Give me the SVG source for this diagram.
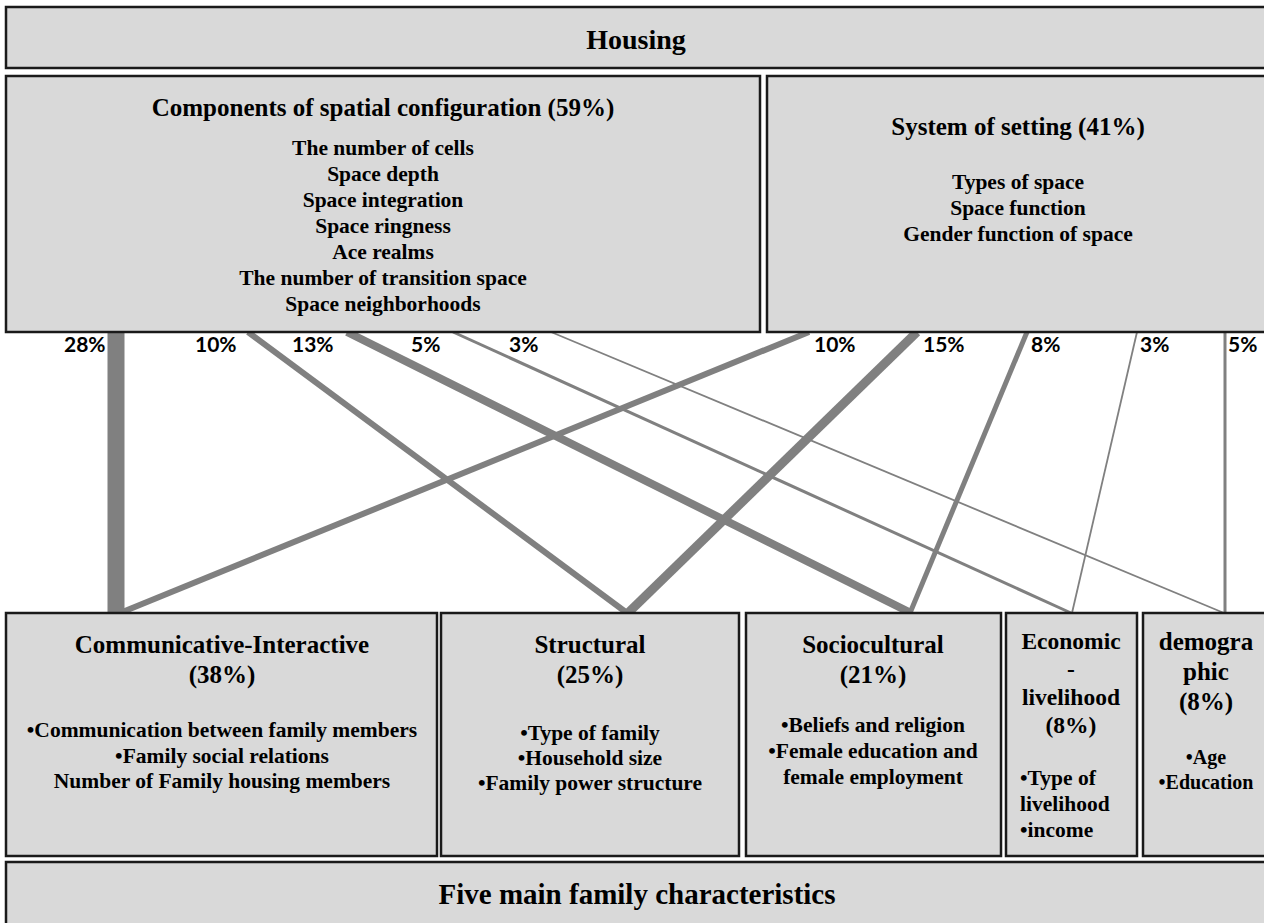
<svg xmlns="http://www.w3.org/2000/svg" width="1264" height="923" viewBox="0 0 1264 923">
<style>
.box{fill:#d9d9d9;stroke:#1a1a1a;stroke-width:2.5}
.t{font-family:"Liberation Serif","Times New Roman",serif;font-weight:bold;fill:#000;text-anchor:middle}
.h{font-size:28px}
.ti{font-size:25px}
.it{font-size:21.5px}
.l{text-anchor:start}
.c{stroke:#808080;fill:none;stroke-linecap:butt}
.p{font-family:Lato,"Liberation Sans",sans-serif;font-weight:bold;font-size:21px;fill:#000}
</style>
<rect width="1264" height="923" fill="#fff"/>
<g id="connectors">
<line class="c" x1="116" y1="332" x2="116" y2="613" stroke-width="17"/>
<line class="c" x1="248" y1="332" x2="627" y2="613" stroke-width="6"/>
<line class="c" x1="347" y1="332" x2="911" y2="613" stroke-width="8"/>
<line class="c" x1="453" y1="332" x2="1071" y2="613" stroke-width="3"/>
<line class="c" x1="551" y1="332" x2="1224" y2="613" stroke-width="1.8"/>
<line class="c" x1="809" y1="332" x2="120" y2="613" stroke-width="6"/>
<line class="c" x1="917" y1="332" x2="628" y2="613" stroke-width="9"/>
<line class="c" x1="1027" y1="332" x2="910" y2="613" stroke-width="5"/>
<line class="c" x1="1137" y1="332" x2="1072" y2="613" stroke-width="1.8"/>
<line class="c" x1="1225" y1="332" x2="1225" y2="613" stroke-width="3"/>
<text class="p" x="64" y="352">28%</text>
<text class="p" x="195" y="352">10%</text>
<text class="p" x="292" y="352">13%</text>
<text class="p" x="411" y="352">5%</text>
<text class="p" x="509" y="352">3%</text>
<text class="p" x="814" y="352">10%</text>
<text class="p" x="923" y="352">15%</text>
<text class="p" x="1031" y="352">8%</text>
<text class="p" x="1140" y="352">3%</text>
<text class="p" x="1228" y="352">5%</text>
</g>
<g id="housing">
<rect class="box" x="6" y="7" width="1266" height="61"/>
<text class="t h" x="636" y="49">Housing</text>
</g>
<g id="components">
<rect class="box" x="6" y="76" width="754" height="256"/>
<text class="t ti" x="383" y="116">Components of spatial configuration (59%)</text>
<text class="t it" x="383" y="155">The number of cells</text>
<text class="t it" x="383" y="181">Space depth</text>
<text class="t it" x="383" y="207">Space integration</text>
<text class="t it" x="383" y="233">Space ringness</text>
<text class="t it" x="383" y="259">Ace realms</text>
<text class="t it" x="383" y="285">The number of transition space</text>
<text class="t it" x="383" y="311">Space neighborhoods</text>
</g>
<g id="system">
<rect class="box" x="767" y="76" width="505" height="256"/>
<text class="t ti" x="1018" y="135">System of setting (41%)</text>
<text class="t it" x="1018" y="189">Types of space</text>
<text class="t it" x="1018" y="215">Space function</text>
<text class="t it" x="1018" y="241">Gender function of space</text>
</g>
<g id="communicative">
<rect class="box" x="6" y="613" width="431" height="243"/>
<text class="t ti" x="222" y="653">Communicative-Interactive</text>
<text class="t ti" x="222" y="683">(38%)</text>
<text class="t it" x="222" y="737">•Communication between family members</text>
<text class="t it" x="222" y="763">•Family social relations</text>
<text class="t it" x="222" y="788">Number of Family housing members</text>
</g>
<g id="structural">
<rect class="box" x="441" y="613" width="298" height="243"/>
<text class="t ti" x="590" y="653">Structural</text>
<text class="t ti" x="590" y="683">(25%)</text>
<text class="t it" x="590" y="740">•Type of family</text>
<text class="t it" x="590" y="765">•Household size</text>
<text class="t it" x="590" y="790">•Family power structure</text>
</g>
<g id="sociocultural">
<rect class="box" x="746" y="613" width="255" height="243"/>
<text class="t ti" x="873" y="653">Sociocultural</text>
<text class="t ti" x="873" y="683">(21%)</text>
<text class="t it" x="873" y="732">•Beliefs and religion</text>
<text class="t it" x="873" y="758">•Female education and</text>
<text class="t it" x="873" y="784">female employment</text>
</g>
<g id="economic">
<rect class="box" x="1006" y="613" width="131" height="243"/>
<text class="t" font-size="23.5" x="1071" y="649">Economic</text>
<text class="t" font-size="23.5" x="1071" y="677">-</text>
<text class="t" font-size="23.5" x="1071" y="705">livelihood</text>
<text class="t" font-size="23.5" x="1071" y="733">(8%)</text>
<text class="t it l" x="1020" y="785">•Type of</text>
<text class="t it l" x="1020" y="811">livelihood</text>
<text class="t it l" x="1020" y="837">•income</text>
</g>
<g id="demographic">
<rect class="box" x="1143" y="613" width="129" height="243"/>
<text class="t ti" x="1206" y="650">demogra</text>
<text class="t ti" x="1206" y="680">phic</text>
<text class="t ti" x="1206" y="710">(8%)</text>
<text class="t" font-size="20" x="1206" y="764">•Age</text>
<text class="t" font-size="20" x="1206" y="789">•Education</text>
</g>
<g id="five">
<rect class="box" x="6" y="862" width="1266" height="70"/>
<text class="t" font-size="29" x="637" y="904">Five main family characteristics</text>
</g>
</svg>
